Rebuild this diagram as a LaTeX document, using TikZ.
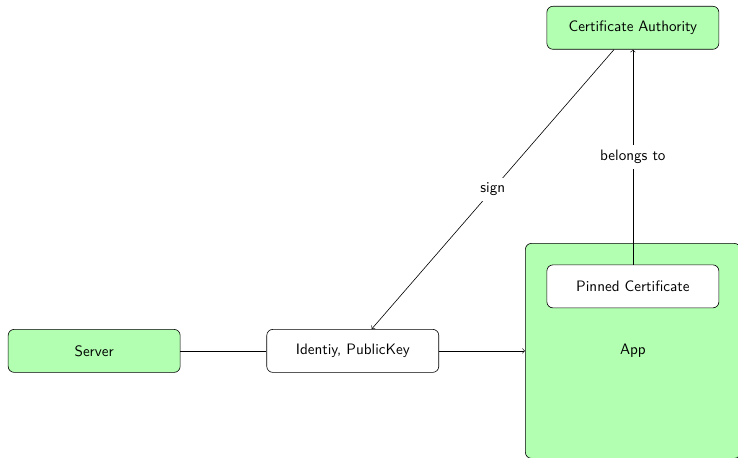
\documentclass[tikz,border=0pt]{standalone}
\usepackage{tikz}
\usetikzlibrary{positioning}

\begin{document}
\begin{tikzpicture}[every node/.style={font=\sffamily}, node distance=2cm,
	box/.style={draw, rounded corners, minimum width=4cm, minimum height=1cm},
	greenbox/.style={box, fill=green!30}]
	\useasboundingbox (0,0) rectangle (17.163,-10.651);
	% bottom row
	\node[greenbox] (server) at (2.19,-8.16) {Server};
	\node[box, right=of server] (ident) {Identiy, PublicKey};
	\node[greenbox, minimum width=5cm, minimum height=5cm, right=of ident] (app) {App};
	% certificate inside the app, authority above it
	\node[box, fill=white, below=0.5cm of app.north] (pinned) {Pinned Certificate};
	\node[greenbox, above=5cm of pinned] (ca) {Certificate Authority};
	\draw (server) -- (ident);
	\draw[->] (ident) -- (app);
	\draw[->] (ca) -- node[fill=white] {sign} (ident);
	\draw[->] (pinned) -- node[fill=white] {belongs to} (ca);
\end{tikzpicture}
\end{document}
